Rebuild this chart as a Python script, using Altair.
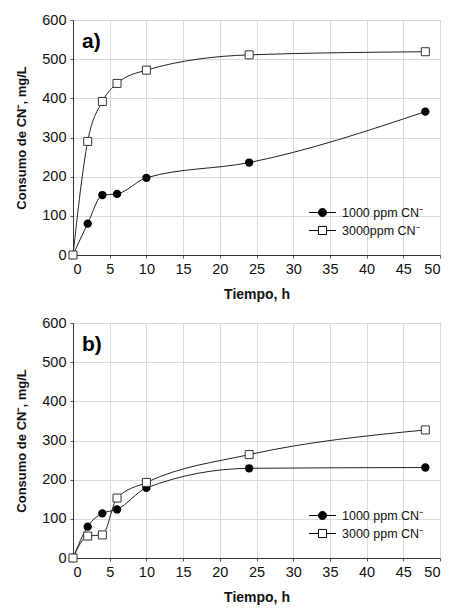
import altair as alt
import pandas as pd

tiempo = [0, 2, 4, 6, 10, 24, 48]
a_1000 = [0, 80, 153, 156, 197, 236, 366]
a_3000 = [0, 290, 392, 438, 472, 511, 519]
b_1000 = [0, 80, 114, 124, 179, 229, 231]
b_3000 = [0, 56, 59, 153, 193, 264, 327]

labels_a = ["1000 ppm CN\u207b", "3000ppm CN\u207b"]
labels_b = ["1000 ppm CN\u207b", "3000 ppm CN\u207b"]

x_ticks = list(range(0, 51, 5))
y_ticks = list(range(0, 601, 100))

FONT = "Liberation Sans"

P_CIRCLE = ("M-1.5,0H-0.45M0.45,0H1.5"
            "M-0.45,0A0.45,0.45 0 1,1 0.45,0A0.45,0.45 0 1,1 -0.45,0Z")
P_SQUARE = "M-1.5,0H-0.45M0.45,0H1.5M-0.45,-0.45H0.45V0.45H-0.45Z"


def panel(s1, s2, labels, tag):
    df = pd.DataFrame({
        "t": tiempo + tiempo,
        "v": s1 + s2,
        "serie": [labels[0]] * len(tiempo) + [labels[1]] * len(tiempo),
    })
    base = alt.Chart(df)
    x = alt.X("t:Q", scale=alt.Scale(domain=[0, 50], nice=False),
              axis=alt.Axis(values=x_ticks, title="Tiempo, h"))
    y = alt.Y("v:Q", scale=alt.Scale(domain=[0, 600], nice=False),
              axis=alt.Axis(values=y_ticks, title="Consumo de CN\u207b, mg/L"))
    line = base.mark_line(interpolate="monotone", color="#222",
                          strokeWidth=1).encode(x=x, y=y, detail="serie:N")
    p1 = base.transform_filter(alt.datum.serie == labels[0]).mark_point(
        shape="circle", filled=True, color="black", size=70, opacity=1
    ).encode(x=x, y=y)
    p2 = base.transform_filter(alt.datum.serie == labels[1]).mark_point(
        shape="square", filled=True, fill="white", stroke="#333",
        strokeWidth=1, size=64, opacity=1
    ).encode(x=x, y=y)
    leg_cfg = dict(orient="none", legendX=240, legendY=183, title=None,
                   symbolSize=324, labelOffset=10, rowPadding=2,
                   labelFont=FONT, labelFontSize=12.5, labelColor="#111",
                   symbolStrokeWidth=1, padding=0)
    leg = base.transform_filter("datum.v < -1000").mark_point(
        filled=True, strokeWidth=1, opacity=1
    ).encode(
        x=x, y=y,
        shape=alt.Shape("serie:N", scale=alt.Scale(domain=labels, range=[P_CIRCLE, P_SQUARE]),
                        legend=alt.Legend(**leg_cfg)),
        fill=alt.Fill("serie:N", scale=alt.Scale(domain=labels, range=["black", "white"]),
                      legend=alt.Legend(**leg_cfg)),
        stroke=alt.value("black"),
    )
    tag_df = pd.DataFrame({"lab": [tag]})
    txt = alt.Chart(tag_df).mark_text(
        align="left", baseline="middle", fontSize=21, fontWeight="bold", font=FONT
    ).encode(text="lab:N", x=alt.value(9), y=alt.value(22))
    return alt.layer(line, p1, p2, leg, txt).properties(width=367, height=235)


chart = alt.vconcat(
    panel(a_1000, a_3000, labels_a, "a)"),
    panel(b_1000, b_3000, labels_b, "b)"),
    spacing=12,
).resolve_scale(
    shape="independent", fill="independent"
).resolve_legend(
    shape="independent", fill="independent"
).properties(
    padding={"left": 7, "top": 3, "right": 5, "bottom": 5}
).configure(font=FONT).configure_axis(
    labelFont=FONT, labelFontSize=14.5, labelColor="#111",
    titleFont=FONT, titleFontWeight="bold", titleColor="#111",
    gridColor="#dadada", gridWidth=1, domainColor="#333", domainWidth=1,
    ticks=True, tickSize=3, tickColor="#555", labelPadding=4,
).configure_axisX(titlePadding=12, titleFontSize=14).configure_axisY(
    titlePadding=13, titleFontSize=13
).configure_view(
    stroke="#444", strokeWidth=1
)

chart.save("out.html", embed_options={"renderer": "svg", "actions": False})
